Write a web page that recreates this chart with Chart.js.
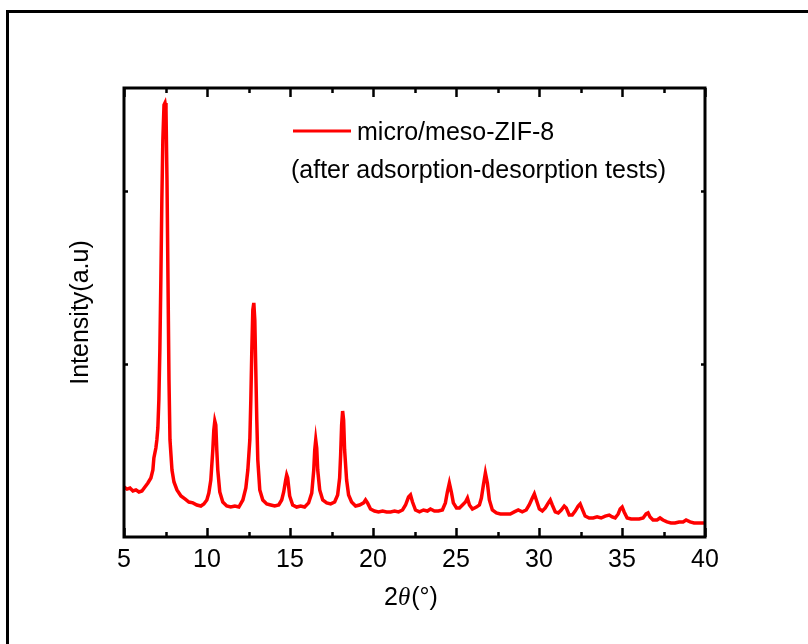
<!DOCTYPE html>
<html>
<head>
<meta charset="utf-8">
<title>XRD micro/meso-ZIF-8</title>
<script src="https://cdn.jsdelivr.net/npm/chart.js@4.4.1/dist/chart.umd.min.js"></script>
<style>
  body { margin: 0; background: #fff; }
  #wrap { width: 808px; height: 644px; }
</style>
</head>
<body>
<div id="wrap"><canvas id="myChart" width="808" height="644"></canvas></div>
<script>
'use strict';

// 2theta (degrees)
let twoTheta = [
  5.00, 5.18, 5.36, 5.54, 5.72, 5.90, 6.08, 6.26, 6.44, 6.62, 6.74, 6.80, 6.92, 6.98,
  7.04, 7.10, 7.16, 7.22, 7.28, 7.34, 7.41, 7.47, 7.53, 7.59, 7.65, 7.71, 7.77, 7.89,
  8.01, 8.19, 8.43, 8.67, 8.91, 9.15, 9.39, 9.63, 9.81, 9.99, 10.11, 10.23, 10.35, 10.41,
  10.47, 10.53, 10.59, 10.65, 10.77, 10.95, 11.19, 11.43, 11.68, 11.92, 12.16, 12.34, 12.46, 12.58,
  12.64, 12.70, 12.76, 12.82, 12.88, 12.94, 13.00, 13.06, 13.18, 13.36, 13.60, 13.84, 14.08, 14.32,
  14.50, 14.62, 14.74, 14.80, 14.86, 14.98, 15.16, 15.40, 15.64, 15.88, 16.12, 16.31, 16.43, 16.49,
  16.55, 16.61, 16.67, 16.79, 16.97, 17.21, 17.45, 17.69, 17.87, 17.99, 18.05, 18.11, 18.17, 18.23,
  18.29, 18.41, 18.53, 18.71, 18.95, 19.19, 19.43, 19.55, 19.67, 19.85, 20.09, 20.33, 20.58, 20.82,
  21.06, 21.30, 21.54, 21.78, 21.96, 22.14, 22.26, 22.38, 22.56, 22.80, 23.04, 23.28, 23.46, 23.70,
  23.94, 24.18, 24.36, 24.48, 24.60, 24.72, 24.84, 25.03, 25.21, 25.39, 25.57, 25.69, 25.81, 25.99,
  26.23, 26.41, 26.53, 26.65, 26.77, 26.89, 27.01, 27.19, 27.43, 27.67, 27.97, 28.27, 28.51, 28.75,
  28.99, 29.23, 29.41, 29.60, 29.72, 29.84, 30.02, 30.20, 30.38, 30.56, 30.68, 30.80, 30.98, 31.16,
  31.34, 31.52, 31.64, 31.82, 32.00, 32.18, 32.36, 32.48, 32.60, 32.78, 33.02, 33.26, 33.50, 33.74,
  33.99, 34.23, 34.41, 34.59, 34.77, 34.89, 35.01, 35.13, 35.31, 35.55, 35.79, 36.03, 36.27, 36.45,
  36.57, 36.69, 36.87, 37.11, 37.29, 37.47, 37.71, 37.95, 38.19, 38.44, 38.68, 38.86, 39.10, 39.34,
  39.58, 39.82, 40.00
];

// intensity (a.u.), one per 2theta value
let intensity = [
  289, 277, 283, 266, 272, 260, 266, 289, 312, 341, 387, 457, 514, 561,
  630, 792, 1081, 1486, 1948, 2295, 2497, 2509, 2468, 2064, 1486, 907, 561, 387,
  318, 272, 237, 220, 202, 197, 185, 179, 191, 214, 254, 329, 503, 618,
  670, 647, 503, 387, 260, 202, 179, 173, 179, 173, 214, 283, 387, 561,
  792, 1081, 1312, 1353, 1254, 965, 676, 445, 272, 214, 191, 185, 179, 185,
  214, 260, 329, 358, 341, 237, 185, 173, 179, 173, 197, 254, 387, 503,
  561, 514, 387, 272, 214, 197, 191, 202, 243, 341, 474, 647, 728, 676,
  503, 329, 243, 202, 179, 185, 197, 214, 197, 162, 150, 145, 150, 145,
  145, 150, 145, 156, 185, 231, 243, 202, 156, 145, 156, 150, 162, 150,
  150, 156, 197, 260, 312, 260, 197, 168, 168, 185, 202, 225, 185, 162,
  173, 185, 225, 301, 370, 312, 214, 156, 139, 133, 133, 133, 145, 156,
  145, 156, 185, 225, 249, 214, 162, 150, 168, 197, 214, 185, 145, 139,
  156, 179, 168, 127, 127, 150, 179, 191, 162, 121, 110, 110, 116, 110,
  121, 127, 116, 110, 133, 162, 173, 145, 110, 104, 104, 104, 110, 133,
  139, 116, 98, 98, 110, 98, 87, 81, 81, 87, 87, 98, 87, 81,
  81, 81, 81
];

let xTicks = [5, 10, 15, 20, 25, 30, 35, 40];
let yTicks = [1000, 2000];
let seriesName = 'micro/meso-ZIF-8';
let seriesNote = '(after adsorption-desorption tests)';

const fontFamily = '"Liberation Sans", Arial, sans-serif';
Chart.defaults.font.family = fontFamily;
Chart.defaults.color = '#000';

let points = [];
for (let i = 0; i < twoTheta.length; i++) {
  points.push({ x: twoTheta[i], y: intensity[i] });
}

// outer frame, plot box, inward ticks, legend and x title
let decorations = {
  id: 'decorations',
  afterDatasetsDraw(chart) {
    let c = chart.ctx;
    let area = chart.chartArea;
    let xs = chart.scales.x;
    let ys = chart.scales.y;
    c.save();
    c.strokeStyle = '#000';
    c.fillStyle = '#000';

    // outer figure frame (only top and left are inside the picture)
    c.lineWidth = 3;
    c.beginPath();
    c.moveTo(7.5, 660);
    c.lineTo(7.5, 11.5);
    c.lineTo(820, 11.5);
    c.stroke();

    // plot box
    c.lineWidth = 3;
    c.strokeRect(area.left, area.top, area.right - area.left, area.bottom - area.top);

    // x ticks every 2.5, pointing in
    c.lineWidth = 2.5;
    for (let v = 5; v <= 40; v += 2.5) {
      let px = Math.round(xs.getPixelForValue(v)) + 0.5;
      let len = (v % 5 === 0) ? 9 : 5;
      c.beginPath();
      c.moveTo(px, area.bottom);
      c.lineTo(px, area.bottom - len);
      c.moveTo(px, area.top);
      c.lineTo(px, area.top + len);
      c.stroke();
    }
    // y ticks, short, pointing in
    for (let i = 0; i < yTicks.length; i++) {
      let py = Math.round(ys.getPixelForValue(yTicks[i])) + 0.5;
      c.beginPath();
      c.moveTo(area.left, py);
      c.lineTo(area.left + 4, py);
      c.moveTo(area.right, py);
      c.lineTo(area.right - 4, py);
      c.stroke();
    }

    // legend
    c.strokeStyle = '#ff0000';
    c.lineWidth = 3;
    c.beginPath();
    c.moveTo(293, 131);
    c.lineTo(351, 131);
    c.stroke();
    c.font = '25px ' + fontFamily;
    c.textBaseline = 'alphabetic';
    c.textAlign = 'left';
    c.fillText(seriesName, 357, 140);
    c.fillText(seriesNote, 291, 178);

    // x axis title: 2θ(°) with italic theta
    let p1 = '2', p2 = '\u03b8', p3 = '(\u00b0)';
    let normal = '25px ' + fontFamily;
    let ital = 'italic 25px "Liberation Serif", "Times New Roman", serif';
    c.font = normal;
    let w1 = c.measureText(p1).width;
    let w3 = c.measureText(p3).width;
    c.font = ital;
    let w2 = c.measureText(p2).width;
    let x0 = (area.left + area.right) / 2 - (w1 + w2 + w3) / 2 - 4;
    let base = 605;
    c.font = normal;
    c.fillText(p1, x0, base);
    c.font = ital;
    c.fillText(p2, x0 + w1, base);
    c.font = normal;
    c.fillText(p3, x0 + w1 + w2 + 1, base);

    c.restore();
  }
};

const ctx = document.getElementById('myChart').getContext('2d');

let chartObject = {
  type: 'line',
  data: {
    datasets: [{
      label: seriesName,
      data: points,
      borderColor: '#ff0000',
      backgroundColor: '#ff0000',
      borderWidth: 3.5,
      pointRadius: 0,
      tension: 0,
      fill: false
    }]
  },
  options: {
    responsive: false,
    animation: false,
    layout: {
      padding: { top: 88, right: 103, left: 0, bottom: 0 }
    },
    plugins: {
      legend: { display: false },
      tooltip: { enabled: false }
    },
    scales: {
      x: {
        type: 'linear',
        min: 5,
        max: 40,
        afterBuildTicks(scale) {
          scale.ticks = xTicks.map(v => ({ value: v }));
        },
        afterFit(scale) {
          scale.height = 107;
        },
        grid: { display: false },
        border: { display: false },
        ticks: {
          padding: 0,
          font: { size: 25 },
          color: '#000'
        }
      },
      y: {
        type: 'linear',
        min: 0,
        max: 2595,
        afterFit(scale) {
          scale.width = 124;
        },
        grid: { display: false },
        border: { display: false },
        ticks: { display: false },
        title: {
          display: true,
          text: 'Intensity(a.u)',
          font: { size: 25 },
          color: '#000',
          padding: { top: 66, bottom: 0 }
        }
      }
    }
  },
  plugins: [decorations]
};

new Chart(ctx, chartObject);
</script>
</body>
</html>
